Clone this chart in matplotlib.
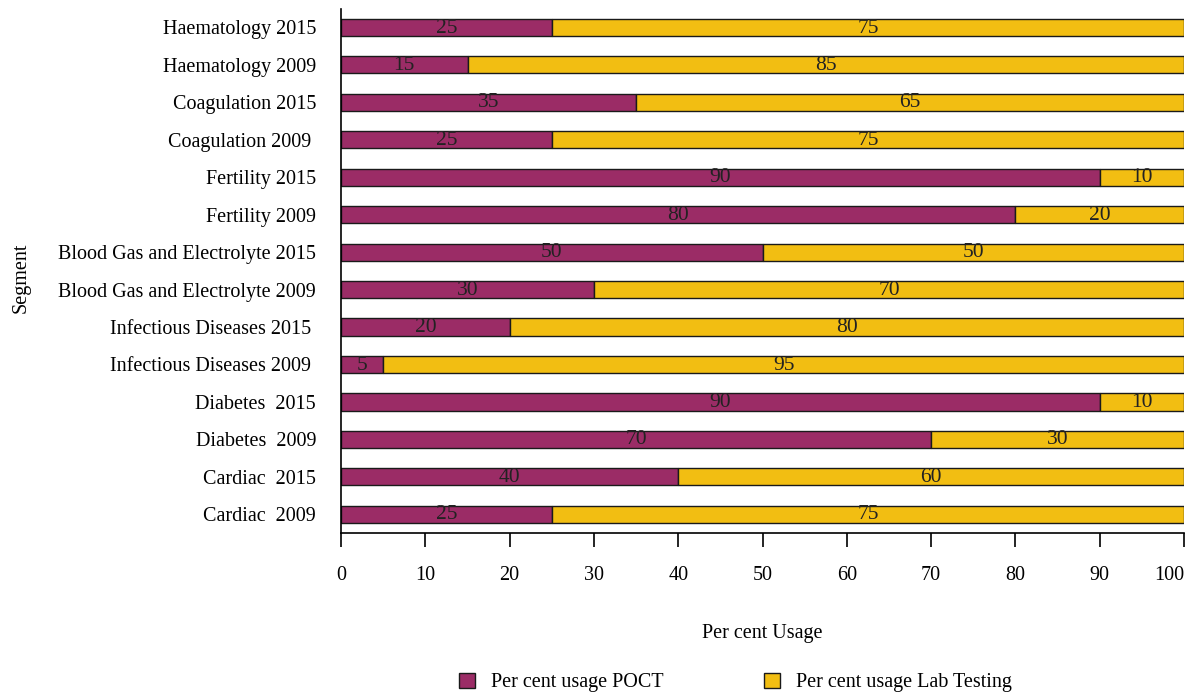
import numpy as np
import matplotlib.pyplot as plt

plt.rcParams['font.family'] = ['Liberation Serif', 'DejaVu Serif']

# Segmente von unten nach oben
segments = ['Cardiac  2009', 'Cardiac  2015', 'Diabetes  2009', 'Diabetes  2015',
            'Infectious Diseases 2009 ', 'Infectious Diseases 2015 ',
            'Blood Gas and Electrolyte 2009', 'Blood Gas and Electrolyte 2015',
            'Fertility 2009', 'Fertility 2015', 'Coagulation 2009 ', 'Coagulation 2015',
            'Haematology 2009', 'Haematology 2015']
poct = [25, 40, 70, 90, 5, 20, 30, 50, 80, 90, 25, 35, 15, 25]
lab = [75, 60, 30, 10, 95, 80, 70, 50, 20, 10, 75, 65, 85, 75]
xticks = [0, 10, 20, 30, 40, 50, 60, 70, 80, 90, 100]

purple = '#9B2C66'
yellow = '#F2BE12'

fig = plt.figure(figsize=(11.9, 6.95), dpi=100)
ax = fig.add_axes([0.2866, 0.2331, 0.7084, 0.7544])

y = np.arange(len(segments))
b1 = ax.barh(y, poct, height=0.46, color=purple, edgecolor='#1a1a1a', linewidth=1.0,
             label='Per cent usage POCT')
b2 = ax.barh(y, lab, left=poct, height=0.46, color=yellow, edgecolor='#1a1a1a', linewidth=1.0,
             label='Per cent usage Lab Testing')

for i in range(len(segments)):
    ax.text(poct[i] / 2, y[i] + 0.05, str(poct[i]), ha='center', va='center_baseline',
            fontsize=15.5, color='#222222')
    ax.text(poct[i] + lab[i] / 2, y[i] + 0.05, str(lab[i]), ha='center', va='center_baseline',
            fontsize=15.5, color='#222222')

ax.set_xlim(0, 100)
ax.set_ylim(-0.5, 13.5)
ax.set_xticks(xticks)
ax.set_xticklabels([str(t) for t in xticks], fontsize=14.5)
ax.get_xticklabels()[-1].set_ha('right')
ax.set_yticks(y)
ax.set_yticklabels(segments, fontsize=14.5)
ax.tick_params(axis='y', length=0, pad=18)
ax.tick_params(axis='x', length=10, width=1.2, direction='out', pad=14)

for s in ['top', 'right']:
    ax.spines[s].set_visible(False)
ax.spines['left'].set_linewidth(1.2)
ax.spines['bottom'].set_linewidth(1.2)

ax.set_xlabel('Per cent Usage', fontsize=14.5, labelpad=28)
fig.text(0.018, 0.60, 'Segment', rotation=90, ha='center', va='center', fontsize=14.5)

fig.legend(handles=[b1, b2], loc='center', bbox_to_anchor=(0.618, 0.018), ncol=2,
           frameon=False, fontsize=14.5, columnspacing=5, handlelength=0.8, handleheight=0.8)

fig.savefig('out.png', dpi=100)
